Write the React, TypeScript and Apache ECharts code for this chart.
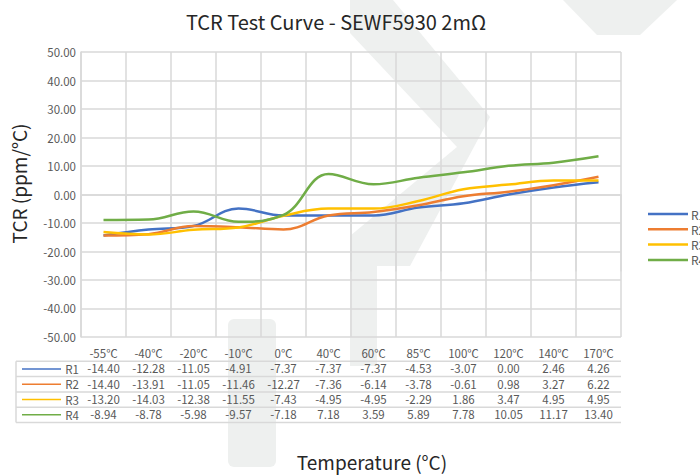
import React, { useEffect, useRef } from "react";
import * as echarts from "echarts";

const categories = ["-55℃", "-40℃", "-20℃", "-10℃", "0℃", "40℃", "60℃", "85℃", "100℃", "120℃", "140℃", "170℃"];
const seriesNames = ["R1", "R2", "R3", "R4"];
const r1 = [-14.4, -12.28, -11.05, -4.91, -7.37, -7.37, -7.37, -4.53, -3.07, 0.0, 2.46, 4.26];
const r2 = [-14.4, -13.91, -11.05, -11.46, -12.27, -7.36, -6.14, -3.78, -0.61, 0.98, 3.27, 6.22];
const r3 = [-13.2, -14.03, -12.38, -11.55, -7.43, -4.95, -4.95, -2.29, 1.86, 3.47, 4.95, 4.95];
const r4 = [-8.94, -8.78, -5.98, -9.57, -7.18, 7.18, 3.59, 5.89, 7.78, 10.05, 11.17, 13.4];
const seriesValues = [r1, r2, r3, r4];
const colors = ["#4472C4", "#ED7D31", "#FFC000", "#70AD47"];

const FONT = "'Noto Sans CJK SC', 'Noto Sans', sans-serif";
const GRID_COLOR = "#d9d9d9";
const TEXT_COLOR = "#595959";
const WM_COLOR = "#eef0ef";
const ROW_H = 15.3;

export default function App() {
  const ref = useRef<HTMLDivElement>(null);
  useEffect(() => {
    document.body.style.margin = "0";
    const chart = echarts.init(ref.current!, undefined, { renderer: "svg" });
    const gridTop = 52;
    const gridBottomY = 345;
    const gridLeft = 81;
    const gridRight = 621;
    const rowTop = gridBottomY + 1.5;
    const elements: any[] = [];

    // faint background watermark (decorative)
    const wm = (points: number[][]) =>
      elements.push({ type: "polygon", silent: true, z: -10, shape: { points }, style: { fill: WM_COLOR } });
    wm([[563, 0], [677, 0], [640, 35], [597, 35]]);
    wm([[393, 0], [490, 117], [410, 266], [377, 266], [377, 366], [350, 366], [350, 236], [457, 147], [350, 33], [350, 0]]);
    elements.push({
      type: "rect",
      silent: true,
      z: -10,
      shape: { x: 228, y: 319, width: 48, height: 148, r: 6 },
      style: { fill: WM_COLOR },
    });

    for (let i = 0; i <= seriesNames.length; i++) {
      const y = rowTop + ROW_H * (i + 1) - 0.5;
      elements.push({
        type: "line",
        silent: true,
        shape: { x1: 16, y1: y, x2: gridRight, y2: y },
        style: { stroke: GRID_COLOR, lineWidth: 1.5 },
      });
    }
    elements.push({
      type: "line",
      silent: true,
      shape: { x1: 16, y1: rowTop + ROW_H - 0.5, x2: 16, y2: rowTop + ROW_H * 5 - 0.5 },
      style: { stroke: GRID_COLOR, lineWidth: 1.5 },
    });
    seriesNames.forEach((name, i) => {
      const cy = rowTop + ROW_H * (i + 1.5) - 0.5;
      elements.push({
        type: "line",
        silent: true,
        shape: { x1: 22, y1: cy, x2: 61, y2: cy },
        style: { stroke: colors[i], lineWidth: 1.5 },
      });
      elements.push({
        type: "text",
        silent: true,
        x: 79,
        y: cy,
        style: {
          text: name,
          fill: TEXT_COLOR,
          font: `11.5px ${FONT}`,
          align: "right",
          verticalAlign: "middle",
        },
      });
    });

    chart.setOption({
      animation: false,
      backgroundColor: "#ffffff",
      textStyle: { fontFamily: FONT },
      title: {
        text: "TCR Test Curve - SEWF5930 2mΩ",
        left: 331,
        top: 6,
        textAlign: "center",
        textStyle: { fontFamily: FONT, fontSize: 20, fontWeight: "normal", color: "#262626" },
      },
      legend: {
        orient: "vertical",
        left: 648,
        top: 208,
        padding: 0,
        icon: "rect",
        itemWidth: 40,
        itemHeight: 2.5,
        itemGap: 3.3,
        data: seriesNames,
        textStyle: { fontFamily: FONT, fontSize: 12, color: TEXT_COLOR, padding: [0, 0, 0, -2] },
      },
      grid: { left: gridLeft, right: 700 - gridRight, top: gridTop, bottom: 476 - gridBottomY, containLabel: false },
      xAxis: {
        type: "category",
        data: categories,
        boundaryGap: true,
        name: "Temperature (°C)",
        nameLocation: "middle",
        nameGap: 115,
        nameTextStyle: { fontFamily: FONT, fontSize: 19, color: "#262626", padding: [0, 0, 0, 42] },
        axisLine: { show: true, lineStyle: { color: GRID_COLOR, width: 1.5 } },
        axisTick: { show: true, alignWithLabel: false, interval: 0, length: 77, lineStyle: { color: GRID_COLOR, width: 1.5 } },
        splitLine: { show: true, interval: 0, lineStyle: { color: GRID_COLOR, width: 1.5 } },
        axisLabel: {
          interval: 0,
          margin: 8.5,
          formatter: (value: string, idx: number) =>
            [`{h|${value}}`, ...seriesValues.map((s) => `{v|${s[idx].toFixed(2)}}`)].join("\n"),
          rich: {
            h: { fontFamily: FONT, fontSize: 11.5, color: TEXT_COLOR, lineHeight: ROW_H },
            v: { fontFamily: FONT, fontSize: 11.5, color: TEXT_COLOR, lineHeight: ROW_H },
          },
        },
      },
      yAxis: {
        type: "value",
        min: -50,
        max: 50,
        interval: 10,
        name: "TCR (ppm/°C)",
        nameLocation: "middle",
        nameGap: 53,
        nameTextStyle: { fontFamily: FONT, fontSize: 19, color: "#262626", padding: [0, 0, 0, 22] },
        axisLine: { show: true, lineStyle: { color: GRID_COLOR, width: 1.5 } },
        axisTick: { show: false },
        splitLine: { show: true, lineStyle: { color: GRID_COLOR, width: 1.5 } },
        axisLabel: {
          margin: 5,
          color: TEXT_COLOR,
          fontSize: 11.5,
          fontFamily: FONT,
          formatter: (v: number) => v.toFixed(2),
        },
      },
      series: seriesNames.map((name, i) => ({
        name,
        type: "line",
        data: seriesValues[i],
        smooth: 0.4,
        showSymbol: false,
        symbol: "none",
        lineStyle: { color: colors[i], width: 2.5 },
        itemStyle: { color: colors[i] },
        z: 3,
      })),
      graphic: elements,
    });
    return () => chart.dispose();
  }, []);
  return <div ref={ref} style={{ width: 700, height: 476 }} />;
}
